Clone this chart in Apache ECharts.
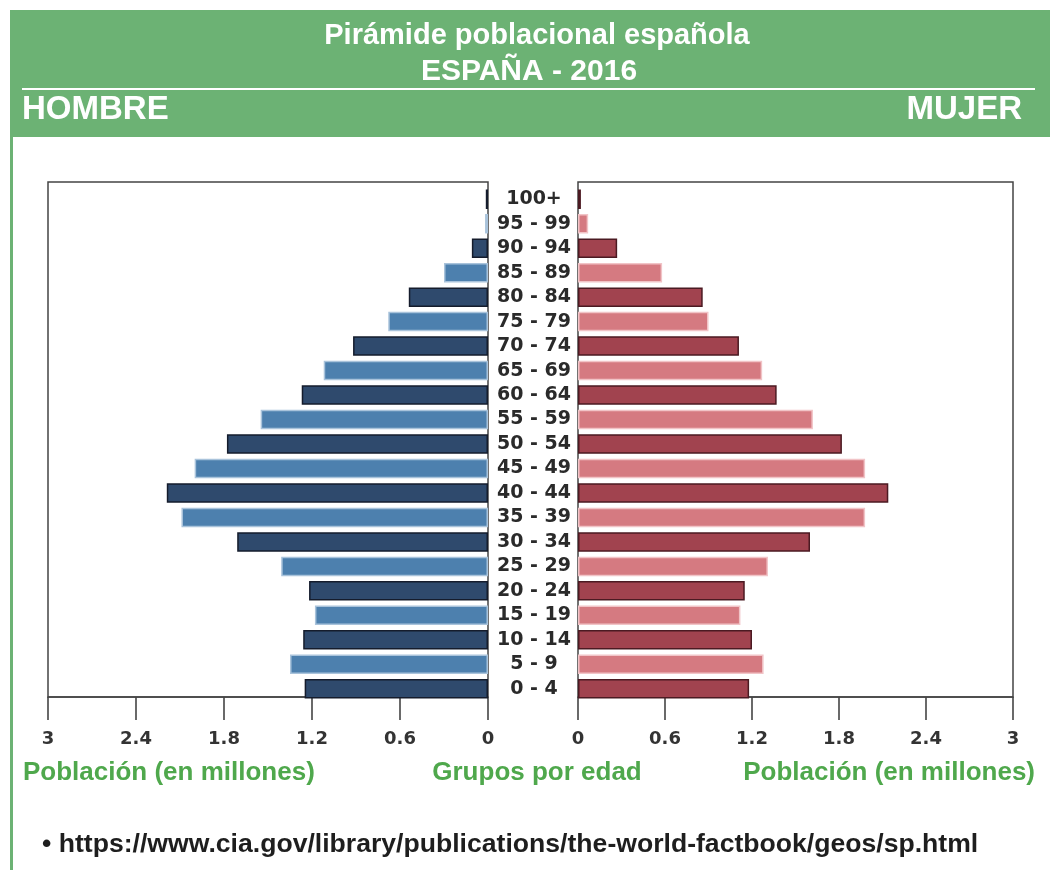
<!DOCTYPE html>
<html>
<head>
<meta charset="utf-8">
<title>Pirámide poblacional española</title>
<script src="https://cdn.jsdelivr.net/npm/echarts@6/dist/echarts.min.js"></script>
<style>
  html, body { margin: 0; padding: 0; background: #ffffff; }
  #chart { width: 1050px; height: 870px; }
</style>
</head>
<body>
<div id="chart"></div>
<script>
// Age groups, youngest first (bottom of the pyramid)
const ageGroups = ['0 - 4', '5 - 9', '10 - 14', '15 - 19', '20 - 24', '25 - 29', '30 - 34',
  '35 - 39', '40 - 44', '45 - 49', '50 - 54', '55 - 59', '60 - 64', '65 - 69', '70 - 74',
  '75 - 79', '80 - 84', '85 - 89', '90 - 94', '95 - 99', '100+'];

// Population in millions
const hombres = [1.25, 1.35, 1.26, 1.18, 1.22, 1.41, 1.71, 2.09, 2.19, 2.00, 1.78,
  1.55, 1.27, 1.12, 0.92, 0.68, 0.54, 0.30, 0.11, 0.02, 0.015];
const mujeres = [1.18, 1.28, 1.20, 1.12, 1.15, 1.31, 1.60, 1.98, 2.14, 1.98, 1.82,
  1.62, 1.37, 1.27, 1.11, 0.90, 0.86, 0.58, 0.27, 0.07, 0.02];

// Axis ticks (millions)
const tickMax = 3;
const tickStep = 0.6;

const GREEN = '#6cb274';
const LABEL_GREEN = '#4fa84c';
const HEAD_FONT = '"Liberation Sans", Arial, Helvetica, sans-serif';

// Alternating shades for consecutive age groups
const maleShades = [
  { color: '#2f4a6d', borderColor: '#151c2c' },
  { color: '#4d80ae', borderColor: '#a9c3db' }
];
const femaleShades = [
  { color: '#a1434f', borderColor: '#4b1a22' },
  { color: '#d57a81', borderColor: '#f1c4c7' }
];

function styled(values, shades) {
  return values.map((v, i) => ({
    value: v,
    itemStyle: Object.assign({ borderWidth: 1.5 }, shades[i % 2])
  }));
}

const chart = echarts.init(document.getElementById('chart'), null, { renderer: 'canvas' });

const tickFont = {
  fontFamily: 'DejaVu Sans',
  fontWeight: 'bold',
  fontSize: 18,
  color: '#333333'
};

// Frame grids carry the visible value axes; bar grids share the same scale
const valueAxis = (gridIndex, inverse, visible) => ({
  type: 'value',
  gridIndex: gridIndex,
  inverse: inverse,
  min: 0,
  max: tickMax,
  interval: tickStep,
  show: visible,
  splitLine: { show: false },
  axisLine: { show: true, lineStyle: { color: '#444444', width: 1.5 } },
  axisTick: { show: true, length: 23, lineStyle: { color: '#444444', width: 1.6 } },
  axisLabel: Object.assign({ margin: 33, formatter: v => String(+v.toFixed(1)) }, tickFont)
});

const frameGrid = (left, right) => ({
  left: left, right: right, top: 182, bottom: 173,
  show: true, borderColor: '#444444', borderWidth: 1.5, backgroundColor: '#ffffff'
});
const barGrid = (left, right) => ({ left: left, right: right, top: 187, bottom: 169 });

const text = (x, y, str, font, fill, align) => ({
  type: 'text', x: x, y: y, silent: true,
  style: { text: str, font: font, fill: fill, textAlign: align, textVerticalAlign: 'middle' }
});

const option = {
  animation: false,
  backgroundColor: '#ffffff',
  graphic: [
    // Header band
    { type: 'rect', shape: { x: 10, y: 10, width: 1040, height: 127 }, style: { fill: GREEN }, silent: true },
    // Left border strip
    { type: 'rect', shape: { x: 10, y: 137, width: 3, height: 733 }, style: { fill: GREEN }, silent: true },
    // Divider in header
    { type: 'rect', shape: { x: 22, y: 88, width: 1013, height: 2 }, style: { fill: '#ffffff' }, silent: true },
    text(537, 36, 'Pirámide poblacional española', 'bold 29px ' + HEAD_FONT, '#ffffff', 'center'),
    text(529, 72, 'ESPAÑA - 2016', 'bold 30px ' + HEAD_FONT, '#ffffff', 'center'),
    text(22, 110, 'HOMBRE', 'bold 33px ' + HEAD_FONT, '#ffffff', 'left'),
    text(1022, 110, 'MUJER', 'bold 33px ' + HEAD_FONT, '#ffffff', 'right'),
    // Axis captions
    text(23, 773, 'Población (en millones)', 'bold 26px ' + HEAD_FONT, LABEL_GREEN, 'left'),
    text(537, 773, 'Grupos por edad', 'bold 26px ' + HEAD_FONT, LABEL_GREEN, 'center'),
    text(1035, 773, 'Población (en millones)', 'bold 26px ' + HEAD_FONT, LABEL_GREEN, 'right'),
    // Source
    text(42, 845, '• https://www.cia.gov/library/publications/the-world-factbook/geos/sp.html', 'bold 26.6px ' + HEAD_FONT, '#1e1e1e', 'left')
  ],
  grid: [
    frameGrid(48, 562),
    frameGrid(578, 37),
    barGrid(48, 562),
    barGrid(578, 37)
  ],
  xAxis: [
    valueAxis(0, true, true),
    valueAxis(1, false, true),
    valueAxis(2, true, false),
    valueAxis(3, false, false)
  ],
  yAxis: [
    { type: 'value', gridIndex: 0, show: false, min: 0, max: 1 },
    { type: 'value', gridIndex: 1, show: false, min: 0, max: 1 },
    {
      type: 'category', gridIndex: 2, data: ageGroups, position: 'right',
      axisLine: { show: false },
      axisTick: { show: false },
      axisLabel: Object.assign({ margin: 46, align: 'center', interval: 0 }, tickFont, { color: '#2a2a2a', fontSize: 19 })
    },
    {
      type: 'category', gridIndex: 3, data: ageGroups, position: 'left',
      axisLine: { show: false },
      axisTick: { show: false },
      axisLabel: { show: false }
    }
  ],
  series: [
    {
      name: 'Hombre', type: 'bar', xAxisIndex: 2, yAxisIndex: 2,
      barWidth: 19.5, data: styled(hombres, maleShades)
    },
    {
      name: 'Mujer', type: 'bar', xAxisIndex: 3, yAxisIndex: 3,
      barWidth: 19.5, data: styled(mujeres, femaleShades)
    }
  ]
};

chart.setOption(option);
</script>
</body>
</html>
